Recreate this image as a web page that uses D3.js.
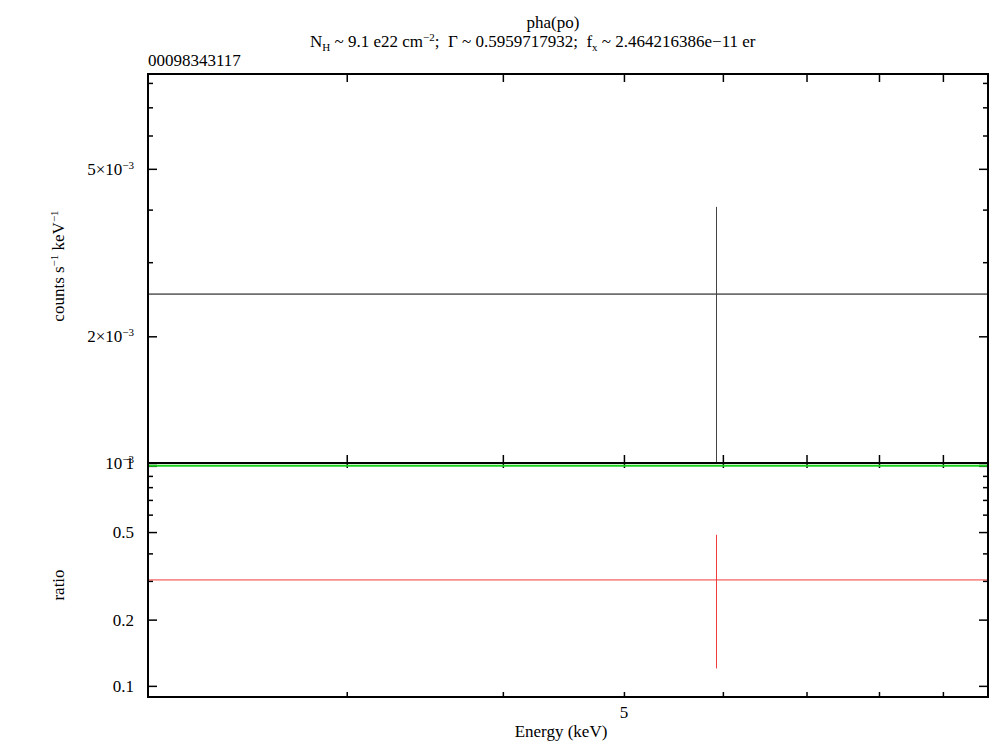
<!DOCTYPE html>
<html>
<head>
<meta charset="utf-8">
<script src="https://cdn.jsdelivr.net/npm/d3@7"></script>
<style>
  body { margin: 0; background: #fff; }
  text { font-family: "Liberation Serif", "DejaVu Serif", serif; fill: #000; white-space: pre; }
</style>
</head>
<body>
<svg id="chart" width="990" height="742"></svg>
<script>
// data ---------------------------------------------------------------
let energyDomain = [2.08, 9.78];
let energyTicks = [3, 4, 5, 6, 7, 8, 9];
let energyLabels = [5];

let countsDomain = [1e-3, 8.4e-3];
let countsMajor = [1e-3, 2e-3, 5e-3];
let countsMinor = [3e-3, 4e-3, 6e-3, 7e-3, 8e-3];
let countsLabels = [["", "10", "−3"], ["2×", "10", "−3"], ["5×", "10", "−3"]];

let ratioDomain = [0.089, 1.03];
let ratioMajor = [0.1, 0.2, 0.5, 1];
let ratioMinor = [0.3, 0.4, 0.6, 0.7, 0.8, 0.9];
let ratioLabels = ["0.1", "0.2", "0.5", "1"];

// one spectral bin: energy centre, bin edges, value, error bounds
let binEnergy = [5.93];
let binLo = [2.0];
let binHi = [10.0];
let countsVal = [2.52e-3];
let countsLo = [0.98e-3];
let countsHi = [4.06e-3];
let ratioVal = [0.303];
let ratioLo = [0.12];
let ratioHi = [0.486];
let ratioRef = [1];

// layout -------------------------------------------------------------
let svg = d3.select("#chart");
let left = 148, right = 988;
let topPanel = {top: 74, bottom: 463};
let botPanel = {top: 463, bottom: 697};

let x = d3.scaleLog().domain(energyDomain).range([left, right]);
let yC = d3.scaleLog().domain(countsDomain).range([topPanel.bottom, topPanel.top]);
let yR = d3.scaleLog().domain(ratioDomain).range([botPanel.bottom, botPanel.top]);

let defs = svg.append("defs");
defs.append("clipPath").attr("id", "clipTop").append("rect")
  .attr("x", left).attr("y", topPanel.top).attr("width", right - left).attr("height", topPanel.bottom - topPanel.top);
defs.append("clipPath").attr("id", "clipBot").append("rect")
  .attr("x", left).attr("y", botPanel.top).attr("width", right - left).attr("height", botPanel.bottom - botPanel.top + 2);

// ticks helper
function tickAxis(axis, scale, values, size, transform)
{
  let g = svg.append("g").attr("transform", transform)
    .call(axis(scale).tickValues(values).tickSize(size).tickFormat(""));
  g.select(".domain").remove();
  g.selectAll(".tick line").attr("stroke", "#000").attr("stroke-width", 1.5);
  return g;
}

// top panel ticks
tickAxis(d3.axisRight, yC, countsMajor, 9, `translate(${left},0)`);
tickAxis(d3.axisRight, yC, countsMinor, 5, `translate(${left},0)`);
tickAxis(d3.axisLeft, yC, countsMajor, 9, `translate(${right},0)`);
tickAxis(d3.axisLeft, yC, countsMinor, 5, `translate(${right},0)`);
tickAxis(d3.axisBottom, x, energyTicks, 8, `translate(0,${topPanel.top})`);
tickAxis(d3.axisTop, x, energyTicks, 8, `translate(0,${topPanel.bottom})`);

// bottom panel ticks
tickAxis(d3.axisRight, yR, ratioMajor, 9, `translate(${left},0)`);
tickAxis(d3.axisRight, yR, ratioMinor, 5, `translate(${left},0)`);
tickAxis(d3.axisLeft, yR, ratioMajor, 9, `translate(${right},0)`);
tickAxis(d3.axisLeft, yR, ratioMinor, 5, `translate(${right},0)`);
tickAxis(d3.axisBottom, x, energyTicks, 5, `translate(0,${botPanel.top})`);
tickAxis(d3.axisTop, x, energyTicks, 5, `translate(0,${botPanel.bottom})`);

// data: top panel
let gTop = svg.append("g").attr("clip-path", "url(#clipTop)");
gTop.selectAll("line.xerr").data(countsVal).join("line")
  .attr("x1", (d, i) => x(binLo[i])).attr("x2", (d, i) => x(binHi[i]))
  .attr("y1", d => yC(d)).attr("y2", d => yC(d))
  .attr("stroke", "#000").attr("stroke-width", 1);
gTop.selectAll("line.yerr").data(countsVal).join("line")
  .attr("x1", (d, i) => x(binEnergy[i])).attr("x2", (d, i) => x(binEnergy[i]))
  .attr("y1", (d, i) => yC(countsLo[i])).attr("y2", (d, i) => yC(countsHi[i]))
  .attr("stroke", "#444").attr("stroke-width", 1);

// data: bottom panel
let gBot = svg.append("g").attr("clip-path", "url(#clipBot)");
gBot.selectAll("line.ref").data(ratioRef).join("line")
  .attr("x1", left).attr("x2", right)
  .attr("y1", d => yR(d)).attr("y2", d => yR(d))
  .attr("stroke", "#1fd21f").attr("stroke-width", 2);
gBot.selectAll("line.xerr").data(ratioVal).join("line")
  .attr("x1", (d, i) => x(binLo[i])).attr("x2", (d, i) => x(binHi[i]))
  .attr("y1", d => yR(d)).attr("y2", d => yR(d))
  .attr("stroke", "#f03c3c").attr("stroke-width", 1);
gBot.selectAll("line.yerr").data(ratioVal).join("line")
  .attr("x1", (d, i) => x(binEnergy[i])).attr("x2", (d, i) => x(binEnergy[i]))
  .attr("y1", (d, i) => yR(ratioLo[i])).attr("y2", (d, i) => yR(ratioHi[i]))
  .attr("stroke", "#f03c3c").attr("stroke-width", 1);

// frames
svg.append("rect").attr("x", left).attr("y", topPanel.top)
  .attr("width", right - left).attr("height", topPanel.bottom - topPanel.top)
  .attr("fill", "none").attr("stroke", "#000").attr("stroke-width", 2);
svg.append("rect").attr("x", left).attr("y", botPanel.top)
  .attr("width", right - left).attr("height", botPanel.bottom - botPanel.top)
  .attr("fill", "none").attr("stroke", "#000").attr("stroke-width", 2);

// tick labels
let fs = 17;
countsMajor.forEach((v, i) => {
  let t = svg.append("text").attr("x", 134).attr("y", yC(v) + 6)
    .attr("text-anchor", "end").style("font-size", fs + "px");
  let lab = countsLabels[i];
  t.append("tspan").text(lab[0] + lab[1]);
  t.append("tspan").attr("dy", -6).style("font-size", "11px").text(lab[2]);
});
ratioMajor.forEach((v, i) => {
  let yy = v === 1 ? botPanel.top : yR(v);
  svg.append("text").attr("x", 134).attr("y", yy + 6)
    .attr("text-anchor", "end").style("font-size", fs + "px").text(ratioLabels[i]);
});
energyLabels.forEach(v => {
  svg.append("text").attr("x", x(v)).attr("y", 718)
    .attr("text-anchor", "middle").style("font-size", fs + "px").text(v);
});

// axis titles
svg.append("text").attr("x", 561).attr("y", 737).attr("text-anchor", "middle")
  .style("font-size", fs + "px").text("Energy (keV)");

let yl = svg.append("text").attr("transform", "translate(64,266) rotate(-90)")
  .attr("text-anchor", "middle").style("font-size", fs + "px");
yl.append("tspan").text("counts s");
yl.append("tspan").attr("dy", -6).style("font-size", "11px").text("−1");
yl.append("tspan").attr("dy", 6).text(" keV");
yl.append("tspan").attr("dy", -6).style("font-size", "11px").text("−1");

svg.append("text").attr("transform", "translate(64,585) rotate(-90)")
  .attr("text-anchor", "middle").style("font-size", fs + "px").text("ratio");

// titles
svg.append("text").attr("x", 553).attr("y", 28).attr("text-anchor", "middle")
  .style("font-size", fs + "px").text("pha(po)");

let t2 = svg.append("text").attr("x", 310).attr("y", 47).style("font-size", fs + "px");
t2.append("tspan").text("N");
t2.append("tspan").attr("dy", 4).style("font-size", "11px").text("H");
t2.append("tspan").attr("dy", -4).text(" ~ 9.1 e22 cm");
t2.append("tspan").attr("dy", -6).style("font-size", "11px").text("−2");
t2.append("tspan").attr("dy", 6).text(";  Γ ~ 0.5959717932;  f");
t2.append("tspan").attr("dy", 4).style("font-size", "11px").text("x");
t2.append("tspan").attr("dy", -4).text(" ~ 2.464216386e−11 er");

svg.append("text").attr("x", 148).attr("y", 66).style("font-size", fs + "px").text("00098343117");
</script>
</body>
</html>
